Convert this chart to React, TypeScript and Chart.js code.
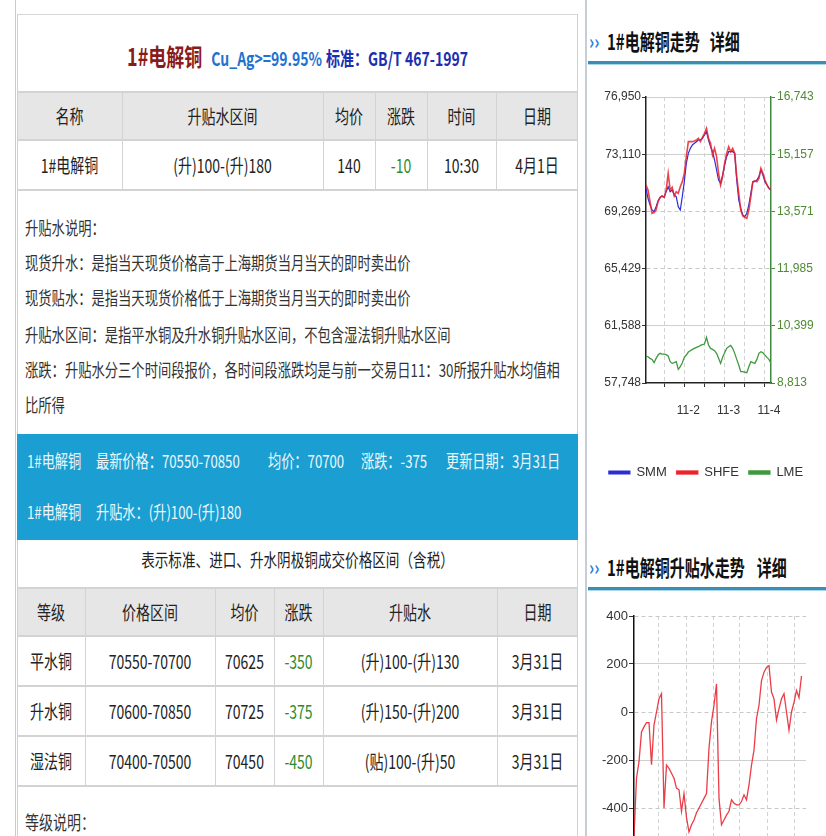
import React, { useEffect, useRef } from 'react';
import { Chart, registerables } from 'chart.js';
Chart.register(...registerables);

// ---------------- data ----------------
const smmPrice = [70818, 70146, 69699, 69363, 69251, 69587, 69990, 70213, 70303, 70213, 70594, 70930, 70594, 70706, 70370, 70258, 69587, 69363, 70258, 71265, 72496, 73168, 73503, 73727, 73839, 73951, 74063, 74063, 74175, 74398, 74622, 74063, 73615, 73279, 72720, 72049, 71377, 71153, 71713, 72384, 72944, 73279, 73279, 73279, 73168, 71377, 70034, 69475, 69027, 68915, 69139, 69699, 70482, 71265, 71265, 71377, 71601, 72049, 71713, 71265, 71041, 70818, 70706];
const shfePrice = [71041, 70706, 69923, 69139, 69184, 69363, 69923, 70213, 70303, 70213, 70706, 71825, 70706, 70885, 70303, 70594, 70482, 70930, 71265, 71825, 72944, 73951, 73951, 73951, 73996, 74063, 74175, 73951, 74242, 74510, 74846, 74175, 73839, 73056, 73503, 72944, 71825, 71041, 71601, 72496, 73168, 73615, 73279, 73503, 73168, 71601, 70482, 69363, 68960, 68871, 68803, 69363, 70258, 71265, 71332, 71265, 71489, 72160, 71825, 71377, 71041, 70818, 70706];
const lmePrice = [9561, 9542, 9496, 9468, 9376, 9496, 9588, 9635, 9616, 9616, 9598, 9561, 9404, 9357, 9376, 9404, 9191, 9265, 9376, 9524, 9588, 9672, 9709, 9746, 9773, 9801, 9820, 9857, 9875, 9894, 10078, 9866, 9773, 9746, 9709, 9635, 9496, 9357, 9524, 9653, 9773, 9820, 9857, 9773, 9635, 9468, 9311, 9126, 9126, 9117, 9099, 9265, 9404, 9376, 9357, 9468, 9635, 9681, 9653, 9588, 9524, 9468, 9357];
const priceXTicks = [9, 19, 29, 39, 49, 59];
const priceXLabels = ['', '11-2', '', '11-3', '', '11-4'];
const priceLeftTicks = [57748, 61588, 65429, 69269, 73110, 76950];
const priceRightTicks = [8813, 10399, 11985, 13571, 15157, 16743];
const priceSeriesNames = ['SMM', 'SHFE', 'LME'];

const premium = [-520, -276, -207, -83, -62, -44, -44, -220, -55, 0, 55, 76, -400, -221, -235, -255, -276, -317, -324, -414, -340, -440, -500, -470, -450, -420, -400, -380, -360, -340, -150, -40, 28, 117, -360, -470, -450, -430, -414, -366, -380, -387, -387, -373, -345, -366, -304, -221, -159, -28, 28, 131, 166, 186, 193, 83, 55, -34, 14, 55, 76, 0, -76, 0, 40, 90, 60, 150];
const premiumXTicks = [9.6, 20.8, 31.6, 42, 53.2, 64];
const premiumYMin = -600;
const premiumYMax = 400;

const header1 = ['名称', '升贴水区间', '均价', '涨跌', '时间', '日期'];
const row1 = ['1#电解铜', '(升)100-(升)180', '140', '-10', '10:30', '4月1日'];
const notes = [
  '升贴水说明：',
  '现货升水：是指当天现货价格高于上海期货当月当天的即时卖出价',
  '现货贴水：是指当天现货价格低于上海期货当月当天的即时卖出价',
  '升贴水区间：是指平水铜及升水铜升贴水区间，不包含湿法铜升贴水区间',
  '涨跌：升贴水分三个时间段报价，各时间段涨跌均是与前一交易日11：30所报升贴水均值相',
  '比所得',
];
const bandLine1 = ['1#电解铜', '最新价格：70550-70850', '均价：70700', '涨跌：-375', '更新日期：3月31日'];
const bandLine2 = ['1#电解铜', '升贴水：(升)100-(升)180'];
const subTitle = '表示标准、进口、升水阴极铜成交价格区间（含税）';
const header2 = ['等级', '价格区间', '均价', '涨跌', '升贴水', '日期'];
const rows2 = [
  ['平水铜', '70550-70700', '70625', '-350', '(升)100-(升)130', '3月31日'],
  ['升水铜', '70600-70850', '70725', '-375', '(升)150-(升)200', '3月31日'],
  ['湿法铜', '70400-70500', '70450', '-450', '(贴)100-(升)50', '3月31日'],
];

// ---------------- layout ----------------
const FONT = '"Noto Sans CJK SC","Noto Sans",sans-serif';
const CFONT = '"Liberation Sans", Arial, sans-serif';
const cols1 = [17, 122, 323, 375, 427, 496, 578];
const cols2 = [17, 85, 215, 274, 323, 497, 578];
const noteYs = [228, 263, 298, 335, 370, 405];
const band1X = [27, 96, 268, 361, 446];
const LINE = '#d3d3d3';

function Txt(p: { x: number; y: number; w?: number; align?: any; size?: number; color?: string; bold?: boolean; sy?: number; children: any }) {
  const { x, y, w, align = 'left', size = 13, color = '#333', bold = false, sy = 1.35, children } = p;
  return (
    <div style={{ position: 'absolute', left: x, top: y, width: w, textAlign: align, fontSize: size, lineHeight: 1, height: size, color, fontWeight: bold ? 700 : 400, whiteSpace: 'nowrap', fontFamily: FONT, transform: `translateY(-50%) scaleY(${sy})` }}>
      {children}
    </div>
  );
}
function R(p: { x: number; y: number; w: number; h: number; c: string }) {
  return <div style={{ position: 'absolute', left: p.x, top: p.y, width: p.w, height: p.h, background: p.c }} />;
}

function Table(p: { cols: number[]; top: number; rowYs: number[]; header: string[]; rows: string[][] }) {
  const { cols, top, rowYs, header, rows } = p;
  const bottom = rowYs[rowYs.length - 1];
  const els: any[] = [];
  els.push(<R key="bg" x={cols[0] + 1} y={top} w={cols[cols.length - 1] - cols[0] - 2} h={rowYs[0] - top} c="#e6e6e6" />);
  [top, ...rowYs].forEach((y, i) => els.push(<R key={'h' + i} x={cols[0]} y={y - 1} w={cols[cols.length - 1] - cols[0]} h={2} c={LINE} />));
  cols.slice(1, -1).forEach((x, i) => els.push(<R key={'v' + i} x={x} y={top} w={1} h={bottom - top} c={LINE} />));
  header.forEach((t, i) => els.push(<Txt key={'ht' + i} x={cols[i]} w={cols[i + 1] - cols[i]} y={(top + rowYs[0]) / 2} align="center" size={14} color="#222">{t}</Txt>));
  rows.forEach((r, ri) => {
    const y0 = ri === 0 ? top : rowYs[ri - 1];
    const y1 = rowYs[ri];
    const yy = ri === 0 ? (rowYs[0] + (rowYs[1] ?? rowYs[0] + 50)) / 2 : 0;
    void y0; void y1; void yy;
  });
  rows.forEach((r, ri) => {
    const yc = (rowYs[ri] + rowYs[ri + 1]) / 2;
    r.forEach((t, ci) => els.push(<Txt key={'c' + ri + '_' + ci} x={cols[ci]} w={cols[ci + 1] - cols[ci]} y={yc} align="center" size={14} color={ci === 3 ? '#2e8b2e' : '#222'}>{t}</Txt>));
  });
  return <>{els}</>;
}

export default function App() {
  const c1 = useRef<HTMLCanvasElement>(null);
  const c2 = useRef<HTMLCanvasElement>(null);

  useEffect(() => {
    const solidLeft = [76950, 73110, 61588];
    const dashedLeft = [69269, 65429];
    const chart1 = new Chart(c1.current!, {
      type: 'line',
      data: {
        labels: smmPrice.map((_, i) => i),
        datasets: [
          { label: priceSeriesNames[0], data: smmPrice, borderColor: '#2d2dd6', backgroundColor: '#2d2dd6', borderWidth: 1.2, pointRadius: 0, yAxisID: 'y', order: 1 },
          { label: priceSeriesNames[1], data: shfePrice, borderColor: 'rgba(236,34,44,0.85)', backgroundColor: '#ec222c', borderWidth: 1.6, pointRadius: 0, yAxisID: 'y', order: 0 },
          { label: priceSeriesNames[2], data: lmePrice, borderColor: '#3f9a3f', backgroundColor: '#3f9a3f', borderWidth: 1.3, pointRadius: 0, yAxisID: 'y2', order: 2 },
        ],
      },
      options: {
        responsive: false,
        animation: false,
        layout: { padding: { top: 12, left: 0, right: 0, bottom: 0 } },
        plugins: {
          legend: {
            position: 'bottom',
            labels: { boxWidth: 21, boxHeight: 3, padding: 10, color: '#333', font: { size: 13, family: CFONT }, sort: (a: any, b: any) => a.datasetIndex - b.datasetIndex },
          },
          tooltip: { enabled: false },
        },
        scales: {
          x: {
            type: 'linear', min: 0, max: smmPrice.length - 1,
            afterBuildTicks: (s: any) => { s.ticks = priceXTicks.map((v) => ({ value: v })); },
            afterFit: (s: any) => { s.height = 73; },
            ticks: { autoSkip: false, maxRotation: 0, padding: 16, labelOffset: 4, color: '#333', font: { size: 12, family: CFONT }, callback: (v: any) => { const k = priceXTicks.indexOf(Number(v)); return k >= 0 ? priceXLabels[k] : ''; } },
            grid: { color: '#d2d2d2', tickColor: '#333', tickLength: 4 },
            border: { color: '#222', width: 1.5, dash: [4, 3] },
          },
          y: {
            position: 'left', min: priceLeftTicks[0], max: priceLeftTicks[priceLeftTicks.length - 1],
            afterBuildTicks: (s: any) => { s.ticks = priceLeftTicks.map((v) => ({ value: v })); },
            afterFit: (s: any) => { s.width = 60; },
            ticks: { padding: 1, color: '#333', font: { size: 12, family: CFONT }, callback: (v: any) => Number(v).toLocaleString('en-US') },
            grid: { color: (ctx: any) => (ctx.tick && dashedLeft.includes(ctx.tick.value) ? '#c8c8c8' : 'rgba(0,0,0,0)'), tickColor: '#333', tickLength: 4 },
            border: { color: '#222', width: 1.5, dash: [4, 3] },
          },
          y2: {
            position: 'right', min: priceRightTicks[0], max: priceRightTicks[priceRightTicks.length - 1],
            afterBuildTicks: (s: any) => { s.ticks = priceRightTicks.map((v) => ({ value: v })); },
            afterFit: (s: any) => { s.width = 55; },
            ticks: { padding: 2, color: '#4f8a32', font: { size: 12, family: CFONT }, callback: (v: any) => Number(v).toLocaleString('en-US') },
            grid: { drawOnChartArea: true, color: (ctx: any) => { if (!ctx.tick) return 'rgba(0,0,0,0)'; const i = priceRightTicks.indexOf(ctx.tick.value); return i >= 0 && solidLeft.includes(priceLeftTicks[i]) ? '#cfcfcf' : 'rgba(0,0,0,0)'; }, tickColor: '#3f8a3f', tickLength: 4 },
            border: { color: '#3f8a3f', width: 1.5 },
          },
        },
      } as any,
    });

    const solidPrem = [200, -200];
    const chart2 = new Chart(c2.current!, {
      type: 'line',
      data: {
        labels: premium.map((_, i) => i),
        datasets: [
          { label: '升贴水', data: premium, borderColor: 'rgba(232,40,52,0.9)', backgroundColor: '#e82834', borderWidth: 1.3, pointRadius: 0 },
        ],
      },
      options: {
        responsive: false,
        animation: false,
        layout: { padding: { top: 16, right: 20, left: 0, bottom: 0 } },
        plugins: { legend: { display: false }, tooltip: { enabled: false } },
        scales: {
          x: {
            type: 'linear', min: 0, max: 68.8,
            afterBuildTicks: (s: any) => { s.ticks = premiumXTicks.map((v) => ({ value: v })); },
            afterFit: (s: any) => { s.height = 20; },
            ticks: { display: false },
            grid: { color: '#d2d2d2', drawTicks: false },
            border: { display: true, color: '#222', width: 1.5, dash: [4, 3] },
          },
          y: {
            position: 'left', min: premiumYMin, max: premiumYMax,
            ticks: { stepSize: 200, padding: 1, color: '#333', font: { size: 13, family: CFONT } },
            afterFit: (s: any) => { s.width = 48; },
            grid: { color: (ctx: any) => (ctx.tick && !solidPrem.includes(ctx.tick.value) ? '#c8c8c8' : 'rgba(0,0,0,0)'), tickColor: '#333', tickLength: 5 },
            border: { color: '#111', width: 1.5, dash: [4, 3] },
          },
          yg: {
            position: 'left', min: premiumYMin, max: premiumYMax,
            ticks: { display: false, stepSize: 200 },
            afterFit: (s: any) => { s.width = 0; },
            grid: { drawTicks: false, color: (ctx: any) => (ctx.tick && solidPrem.includes(ctx.tick.value) ? '#cfcfcf' : 'rgba(0,0,0,0)') },
            border: { display: false },
          },
        },
      } as any,
    });
    return () => { chart1.destroy(); chart2.destroy(); };
  }, []);

  return (
    <div style={{ position: 'absolute', left: 0, top: 0, width: 826, height: 836, overflow: 'hidden', background: '#fff' }}>
      {/* left page frame */}
      <R x={15} y={0} w={1} h={836} c="#c3cdd9" />
      <R x={17} y={14} w={561} h={1} c="#d6d6d6" />
      <R x={17} y={14} w={1} h={822} c="#d0d0d0" />
      <R x={577} y={14} w={1} h={822} c="#d0d0d0" />

      {/* title */}
      <Txt x={17} w={561} y={52} align="center" size={14} bold sy={1.35}>
        <span style={{ color: '#8b1a1a', fontSize: 18 }}>1#电解铜</span>
        <span style={{ color: '#1f72cf', marginLeft: 9 }}>Cu_Ag&gt;=99.95%</span>
        <span style={{ color: '#1c2fae', marginLeft: 4 }}>标准：GB/T 467-1997</span>
      </Txt>

      <Table cols={cols1} top={92} rowYs={[140, 190]} header={header1} rows={[row1]} />

      {notes.map((t, i) => (
        <Txt key={'n' + i} x={25} y={noteYs[i]} size={13.3} color="#333">{t}</Txt>
      ))}

      {/* blue band */}
      <R x={17} y={434} w={561} h={106} c="#1b9fd2" />
      {bandLine1.map((t, i) => (
        <Txt key={'b1' + i} x={band1X[i]} y={461} size={13.2} color="#eef8fc">{t}</Txt>
      ))}
      {bandLine2.map((t, i) => (
        <Txt key={'b2' + i} x={band1X[i]} y={512} size={13.2} color="#eef8fc">{t}</Txt>
      ))}

      <Txt x={17} w={561} y={560} align="center" size={13.6} color="#222">{subTitle}</Txt>

      <Table cols={cols2} top={588} rowYs={[636, 686, 736, 786]} header={header2} rows={rows2} />

      <Txt x={25} y={822} size={14} color="#333">等级说明：</Txt>

      {/* right column */}
      <R x={585} y={0} w={2} h={836} c="#c6cdd7" />

      <Txt x={589} y={40} size={16} bold color="#2a7fd4" sy={1.3}>››</Txt>
      <Txt x={607} y={41} size={15} bold color="#111" sy={1.45}>
        1#电解铜走势<span style={{ marginLeft: 10 }}>详细</span>
      </Txt>
      <R x={588} y={61} w={238} h={3} c="#3b8db3" />
      <R x={588} y={64} w={238} h={1} c="#a8d8ea" />

      <Txt x={589} y={566} size={16} bold color="#2a7fd4" sy={1.3}>››</Txt>
      <Txt x={607} y={567} size={15} bold color="#111" sy={1.45}>
        1#电解铜升贴水走势<span style={{ marginLeft: 12 }}>详细</span>
      </Txt>
      <R x={588} y={587} w={238} h={3} c="#3b8db3" />
      <R x={588} y={590} w={238} h={1} c="#a8d8ea" />

      <canvas ref={c1} width={240} height={404} style={{ position: 'absolute', left: 586, top: 85 }} />
      <canvas ref={c2} width={240} height={276} style={{ position: 'absolute', left: 586, top: 600 }} />
    </div>
  );
}
